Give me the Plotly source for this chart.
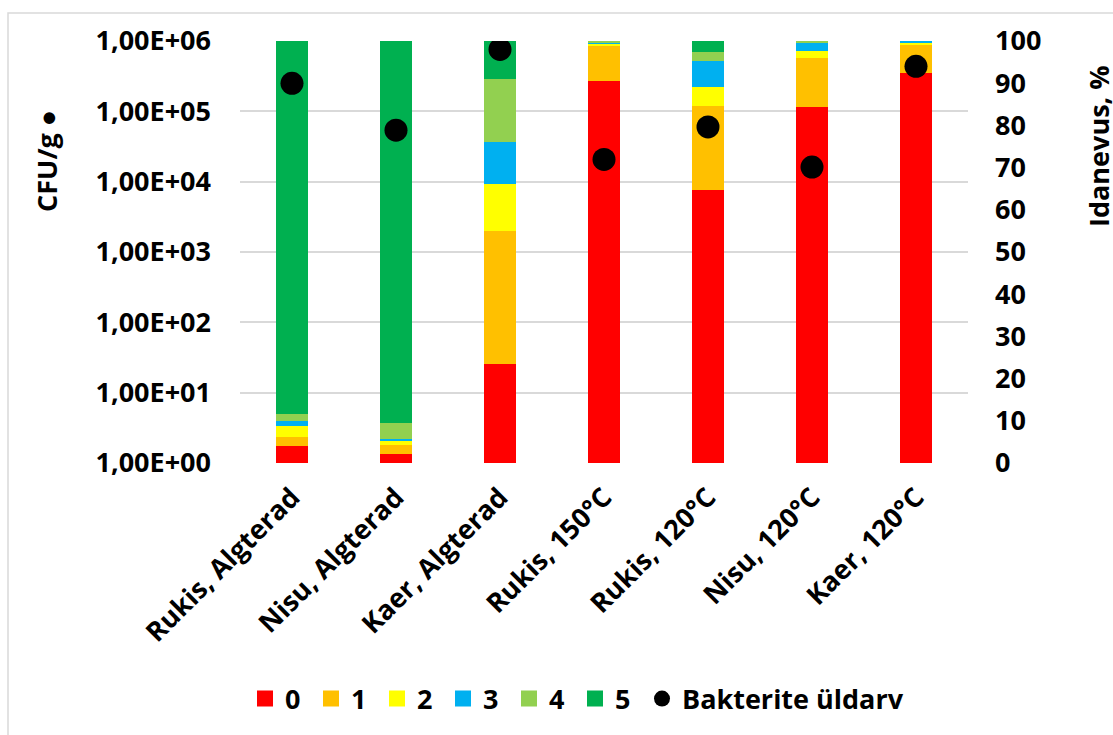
import plotly.graph_objects as go

# Samples along the x axis
categories = ["Rukis, Algterad", "Nisu, Algterad", "Kaer, Algterad",
              "Rukis, 150°C", "Rukis, 120°C", "Nisu, 120°C", "Kaer, 120°C"]

# Germination classes (share of seeds, %), stacked per sample
class_0 = [4.0, 2.2, 23.5, 90.6, 64.7, 84.4, 92.5]
class_1 = [2.2, 2.1, 31.5, 8.4, 19.9, 11.5, 6.6]
class_2 = [2.5, 0.8, 11.0, 0.4, 4.4, 1.7, 0.4]
class_3 = [1.3, 0.5, 10.0, 0.3, 6.3, 2.0, 0.5]
class_4 = [1.6, 3.8, 15.0, 0.3, 2.0, 0.4, 0.0]
class_5 = [88.4, 90.6, 9.0, 0.0, 2.7, 0.0, 0.0]

# Total bacterial count, CFU/g
bacteria_cfu = [2.5e5, 5.4e4, 7.6e5, 2.07e4, 6.0e4, 1.61e4, 4.36e5]

class_names = ["0", "1", "2", "3", "4", "5"]
class_colors = ["#FF0000", "#FFC000", "#FFFF00", "#00B0F0", "#92D050", "#00B050"]

log_tick_vals = [1, 10, 100, 1000, 10000, 100000, 1000000]
log_tick_text = ["1,00E+00", "1,00E+01", "1,00E+02", "1,00E+03",
                 "1,00E+04", "1,00E+05", "1,00E+06"]
pct_tick_vals = [0, 10, 20, 30, 40, 50, 60, 70, 80, 90, 100]

W, H = 1113, 735
L, R, T, B = 240, 145, 41, 272
pw, ph = W - L - R, H - T - B
FS = 27


def px_x(px):
    return (px - L) / pw


def px_y(py):
    return (H - B - py) / ph


fig = go.Figure()

for name, color, vals in zip(class_names, class_colors,
                             [class_0, class_1, class_2, class_3, class_4, class_5]):
    fig.add_trace(go.Bar(
        x=categories, y=vals, name=name, legendgroup=name, showlegend=False,
        marker=dict(color=color, line=dict(width=0)), yaxis="y",
    ))
    # legend key: larger square than the default bar swatch
    fig.add_trace(go.Scatter(
        x=[None], y=[None], name=name, legendgroup=name, mode="markers",
        marker=dict(color=color, size=16, symbol="square"), yaxis="y",
        legend="legend",
    ))

fig.add_trace(go.Scatter(
    x=categories, y=bacteria_cfu, name="Bakterite üldarv", mode="markers",
    marker=dict(color="black", size=23, symbol="circle"),
    yaxis="y2", legend="legend2",
))

legend_common = dict(
    orientation="h", y=px_y(699), yanchor="middle", xanchor="left",
    font=dict(size=FS, weight="bold"), itemsizing="trace",
    traceorder="normal", bgcolor="rgba(0,0,0,0)", itemwidth=30,
)

fig.update_layout(
    width=W, height=H,
    margin=dict(l=L, r=R, t=T, b=B, autoexpand=False),
    paper_bgcolor="white", plot_bgcolor="white",
    font=dict(family="Open Sans", size=FS, color="black", weight="bold"),
    barmode="stack",
    bargap=0.69,
    showlegend=True,
    legend=dict(x=px_x(245), entrywidth=21, entrywidthmode="pixels", **legend_common),
    legend2=dict(x=px_x(642), **legend_common),
    xaxis=dict(
        type="category", tickangle=-45, showgrid=False, zeroline=False,
        showline=False, ticks="", ticklen=0, ticklabelstandoff=12,
        tickfont=dict(size=FS, weight="bold"),
    ),
    yaxis=dict(
        range=[0, 100], side="right", tickvals=pct_tick_vals, showgrid=False,
        zeroline=False, showline=False, ticks="", ticklabelstandoff=26,
        tickfont=dict(size=FS, weight="bold"),
    ),
    yaxis2=dict(
        type="log", range=[0, 6], side="left", overlaying="y",
        tickvals=log_tick_vals, ticktext=log_tick_text,
        showgrid=True, gridcolor="#D9D9D9", gridwidth=1.5,
        zeroline=False, showline=False, ticks="", ticklabelstandoff=28,
        tickfont=dict(size=FS, weight="bold"),
    ),
    annotations=[
        dict(text="CFU/g ●", textangle=-90, xref="paper", yref="paper",
             x=px_x(46), y=px_y(161), xanchor="center", yanchor="middle",
             showarrow=False, font=dict(size=FS, weight="bold")),
        dict(text="Idanevus, %", textangle=-90, xref="paper", yref="paper",
             x=px_x(1098), y=px_y(146), xanchor="center", yanchor="middle",
             showarrow=False, font=dict(size=FS, weight="bold")),
    ],
    shapes=[
        dict(type="rect", xref="paper", yref="paper",
             x0=px_x(8), x1=px_x(1125), y0=px_y(13), y1=px_y(745),
             line=dict(color="#D9D9D9", width=1.5), fillcolor="rgba(0,0,0,0)",
             layer="below"),
    ],
)

fig.write_html("out.html")
